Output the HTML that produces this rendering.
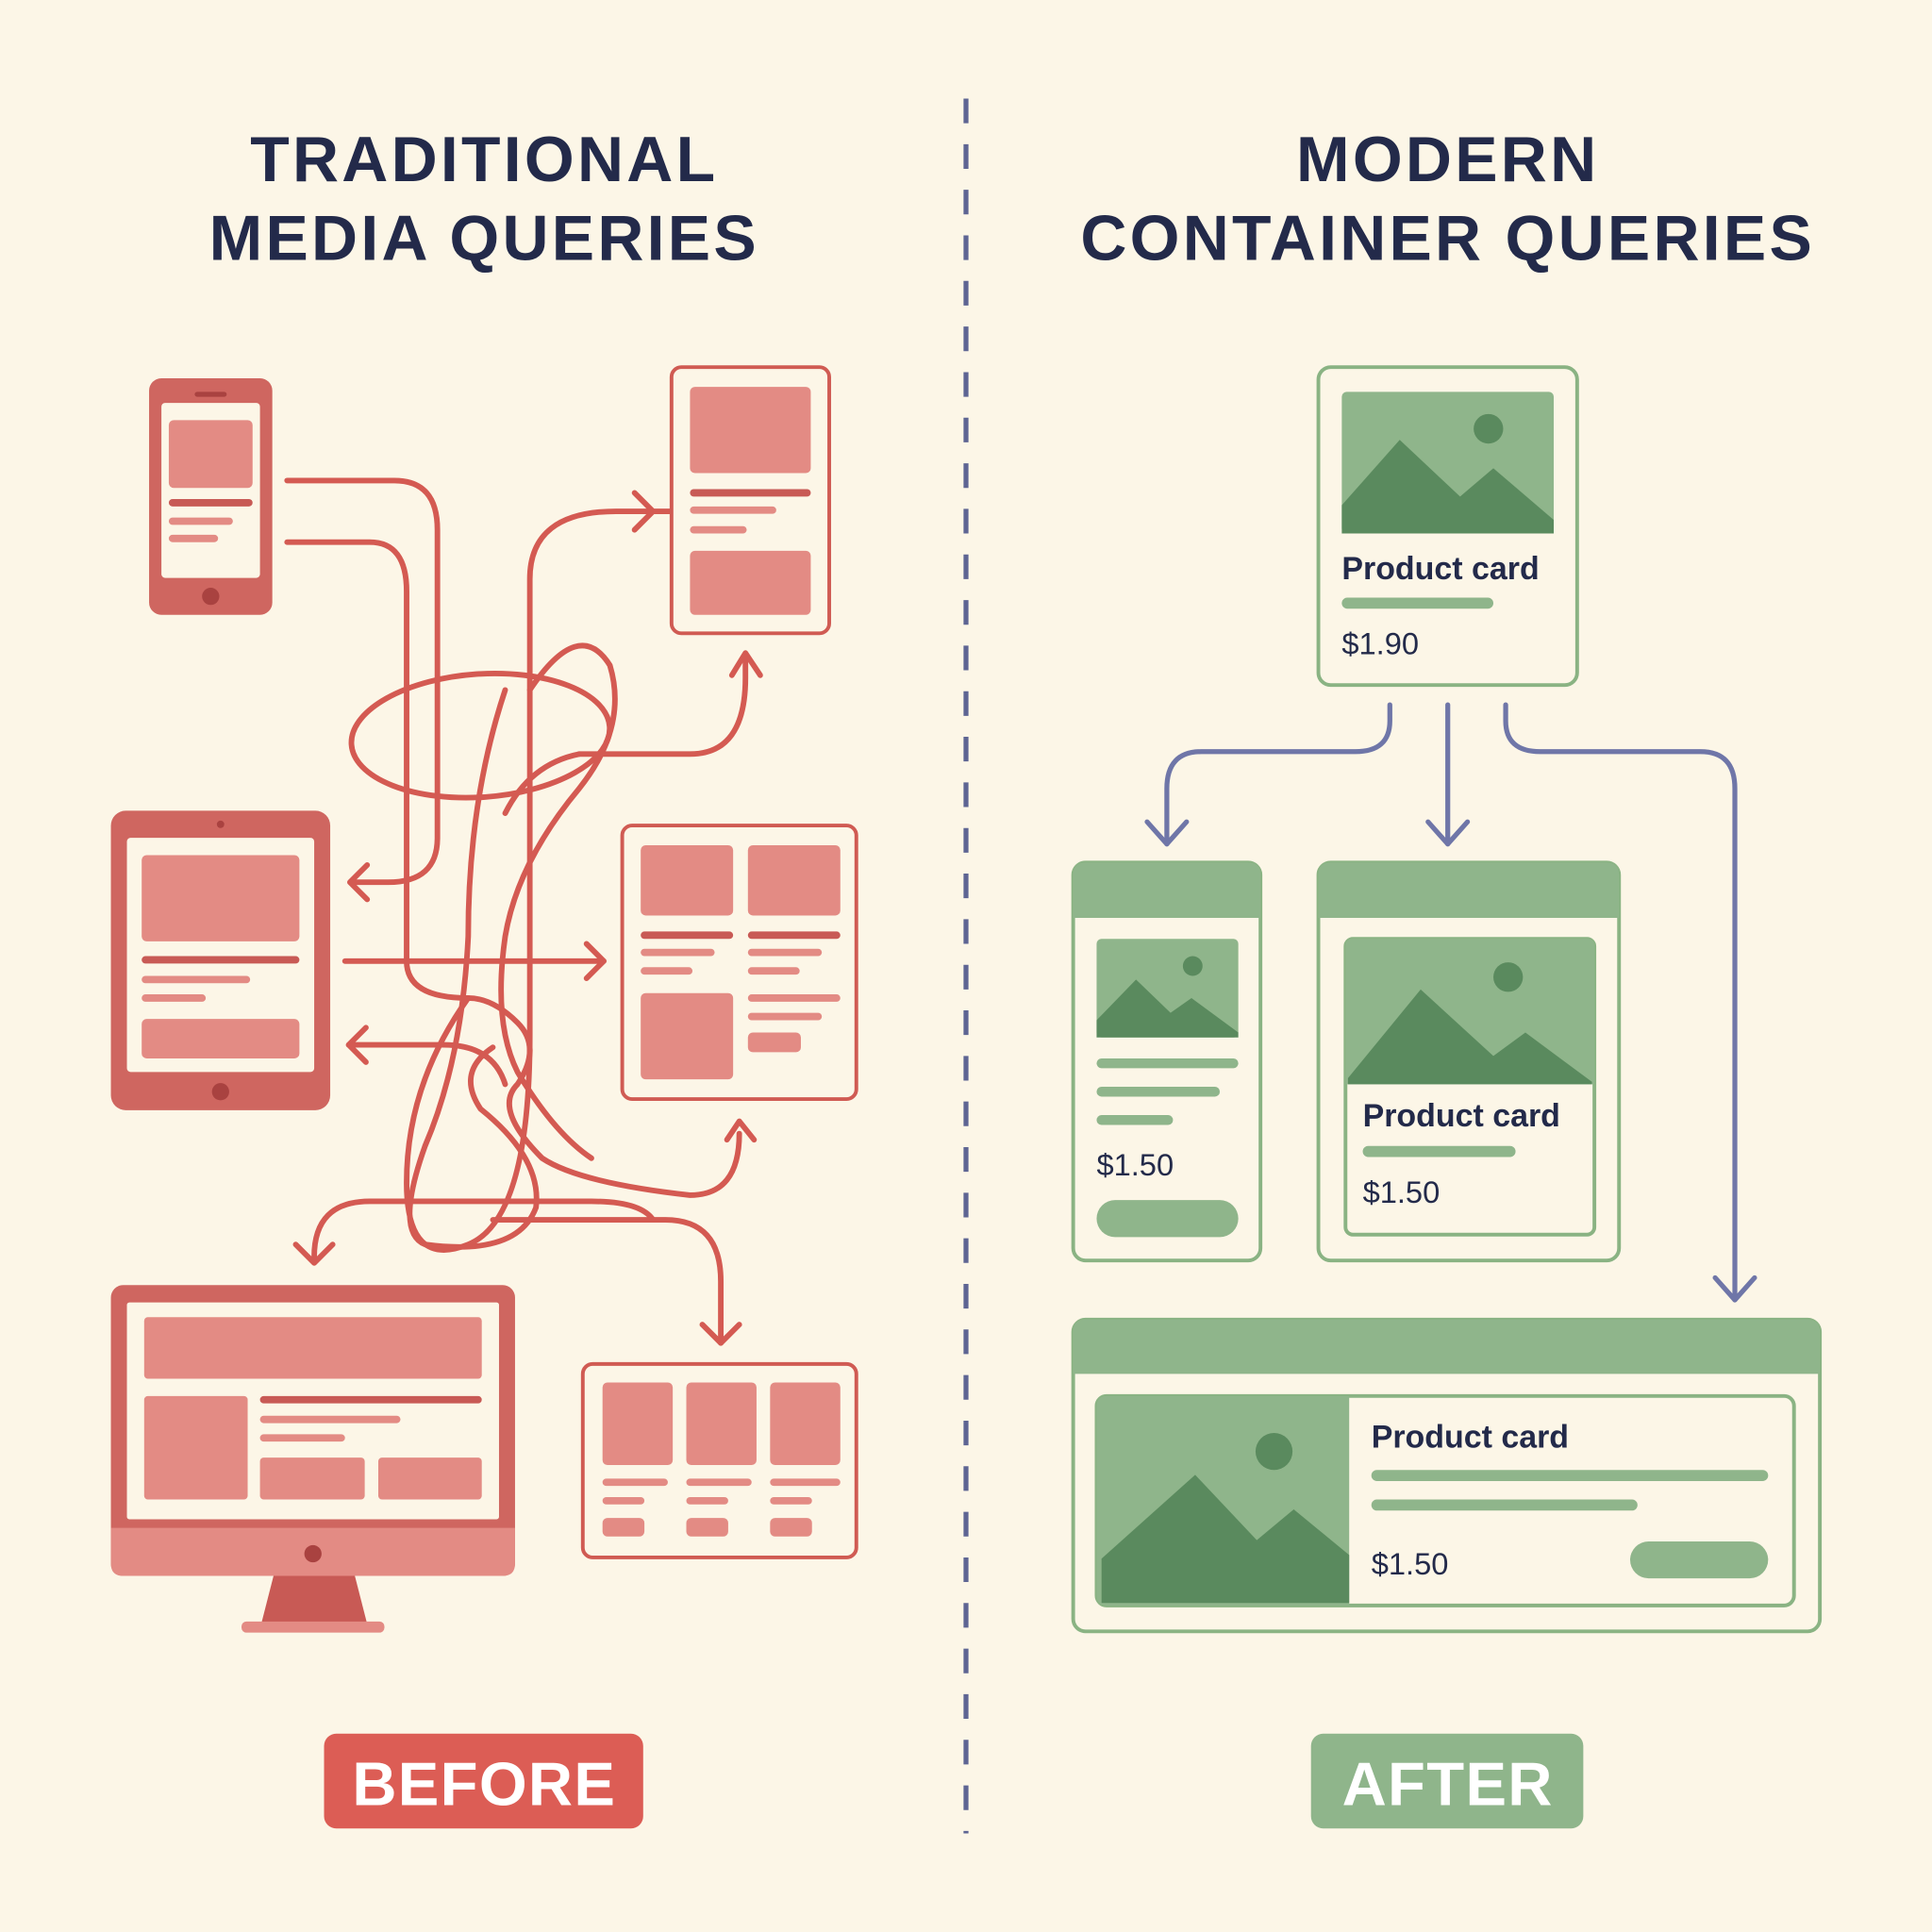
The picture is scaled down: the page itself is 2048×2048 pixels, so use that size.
<!DOCTYPE html>
<html><head><meta charset="utf-8"><style>
html,body{margin:0;padding:0;background:#fcf6e7;}
svg{display:block;}
text{font-family:"Liberation Sans",sans-serif;}
</style></head><body>
<svg width="2048" height="2048" viewBox="0 0 1568 1568" xmlns="http://www.w3.org/2000/svg">
<rect width="1568" height="1568" fill="#fcf6e7"/>
<g fill="#232a4a" font-weight="bold" font-size="52" text-anchor="middle" letter-spacing="2.5">
<text x="393" y="147">TRADITIONAL</text>
<text x="393" y="211">MEDIA QUERIES</text>
<text x="1175" y="147">MODERN</text>
<text x="1175" y="211">CONTAINER QUERIES</text>
</g>
<line x1="784" y1="80" x2="784" y2="1488" stroke="#5e6593" stroke-width="4" stroke-dasharray="20 17"/>

<!-- tangles -->
<g fill="none" stroke="#d45a52" stroke-width="4.5" stroke-linecap="round" stroke-linejoin="round">
<path d="M233 390 H320 Q355 390 355 430 V680 Q355 716 315 716 H285"/>
<path d="M298 702 L284 716 L298 730"/>
<path d="M233 440 H300 Q330 440 330 480 V780 Q330 810 380 810 Q400 810 420 830 Q440 850 420 880 Q400 900 440 940 Q470 960 560 970 Q600 970 600 920"/>
<path d="M590 925 L600 910 L612 925"/>
<path d="M610 415 H500 Q430 415 430 470 V840 Q430 990 380 1010 Q330 1030 330 960 Q330 880 380 810"/>
<path d="M515 400 L530 415 L515 430"/>
<ellipse cx="390" cy="597" rx="105" ry="50" transform="rotate(-4 390 597)"/>
<path d="M430 560 Q470 500 495 540 Q510 590 470 640 Q420 700 410 760 Q400 830 420 870 Q450 920 480 940"/>
<path d="M410 560 Q380 650 380 760 Q375 860 345 930 Q320 1000 345 1010 Q420 1020 435 980 Q440 940 390 900 Q370 870 400 850"/>
<path d="M470 612 H560 Q605 612 605 550 V535"/>
<path d="M594 548 L605 530 L617 548"/>
<path d="M280 780 H490"/>
<path d="M476 766 L490 780 L476 794"/>
<path d="M283 848 H360 Q400 848 410 880"/>
<path d="M297 834 L283 848 L297 862"/>
<path d="M255 1020 Q255 975 300 975 H480 Q520 975 530 990"/>
<path d="M400 990 H540 Q585 990 585 1040 V1090"/>
<path d="M570 1075 L585 1090 L600 1075"/>
<path d="M240 1010 L255 1025 L270 1010"/>
<path d="M470 612 Q430 620 410 660"/>
</g>

<!-- phone -->
<rect x="121" y="307" width="100" height="192" rx="10" fill="#cf6660"/>
<rect x="131" y="327" width="80" height="142" rx="3" fill="#fcf6e7"/>
<rect x="158" y="318" width="26" height="4" rx="2" fill="#a94240"/>
<rect x="137" y="341" width="68" height="55" rx="4" fill="#e38b84"/>
<rect x="137" y="405" width="68" height="6" rx="3" fill="#c85a55"/>
<rect x="137" y="420" width="52" height="6" rx="3" fill="#e38b84"/>
<rect x="137" y="434" width="40" height="6" rx="3" fill="#e38b84"/>
<circle cx="171" cy="484" r="7" fill="#a94240"/>

<!-- phone outline -->
<rect x="545" y="298" width="128" height="216" rx="8" fill="#fcf6e7" stroke="#d05b53" stroke-width="3"/>
<rect x="560" y="314" width="98" height="70" rx="4" fill="#e38b84"/>
<rect x="560" y="397" width="98" height="6" rx="3" fill="#c85a55"/>
<rect x="560" y="411" width="70" height="6" rx="3" fill="#e38b84"/>
<rect x="560" y="427" width="46" height="6" rx="3" fill="#e38b84"/>
<rect x="560" y="447" width="98" height="52" rx="4" fill="#e38b84"/>

<!-- tablet -->
<rect x="90" y="658" width="178" height="243" rx="12" fill="#cf6660"/>
<rect x="103" y="680" width="152" height="190" rx="3" fill="#fcf6e7"/>
<circle cx="179" cy="669" r="3" fill="#a94240"/>
<rect x="115" y="694" width="128" height="70" rx="4" fill="#e38b84"/>
<rect x="115" y="776" width="128" height="6" rx="3" fill="#c85a55"/>
<rect x="115" y="792" width="88" height="6" rx="3" fill="#e38b84"/>
<rect x="115" y="807" width="52" height="6" rx="3" fill="#e38b84"/>
<rect x="115" y="827" width="128" height="32" rx="4" fill="#e38b84"/>
<circle cx="179" cy="886" r="7" fill="#a94240"/>

<!-- two column card -->
<rect x="505" y="670" width="190" height="222" rx="8" fill="#fcf6e7" stroke="#d05b53" stroke-width="3"/>
<rect x="520" y="686" width="75" height="57" rx="4" fill="#e38b84"/>
<rect x="607" y="686" width="75" height="57" rx="4" fill="#e38b84"/>
<rect x="520" y="756" width="75" height="6" rx="3" fill="#c85a55"/>
<rect x="607" y="756" width="75" height="6" rx="3" fill="#c85a55"/>
<rect x="520" y="770" width="60" height="6" rx="3" fill="#e38b84"/>
<rect x="607" y="770" width="60" height="6" rx="3" fill="#e38b84"/>
<rect x="520" y="785" width="42" height="6" rx="3" fill="#e38b84"/>
<rect x="607" y="785" width="42" height="6" rx="3" fill="#e38b84"/>
<rect x="520" y="806" width="75" height="70" rx="4" fill="#e38b84"/>
<rect x="607" y="807" width="75" height="6" rx="3" fill="#e38b84"/>
<rect x="607" y="822" width="60" height="6" rx="3" fill="#e38b84"/>
<rect x="607" y="838" width="43" height="16" rx="4" fill="#e38b84"/>

<!-- monitor -->
<rect x="90" y="1043" width="328" height="236" rx="10" fill="#cf6660"/>
<path d="M90 1240 H418 V1269 Q418 1279 408 1279 H100 Q90 1279 90 1269 Z" fill="#e38b84"/>
<rect x="103" y="1057" width="302" height="176" rx="2" fill="#fcf6e7"/>
<rect x="117" y="1069" width="274" height="50" rx="3" fill="#e38b84"/>
<rect x="117" y="1133" width="84" height="84" rx="3" fill="#e38b84"/>
<rect x="211" y="1133" width="180" height="6" rx="3" fill="#c85a55"/>
<rect x="211" y="1149" width="114" height="6" rx="3" fill="#e38b84"/>
<rect x="211" y="1164" width="69" height="6" rx="3" fill="#e38b84"/>
<rect x="211" y="1183" width="85" height="34" rx="3" fill="#e38b84"/>
<rect x="307" y="1183" width="84" height="34" rx="3" fill="#e38b84"/>
<circle cx="254" cy="1261" r="7" fill="#a94240"/>
<path d="M222 1279 H288 L298 1318 H212 Z" fill="#c85a55"/>
<rect x="196" y="1316" width="116" height="9" rx="4" fill="#e38b84"/>

<!-- wide small card -->
<rect x="473" y="1107" width="222" height="157" rx="8" fill="#fcf6e7" stroke="#d05b53" stroke-width="3"/>
<rect x="489" y="1122" width="57" height="67" rx="4" fill="#e38b84"/>
<rect x="557" y="1122" width="57" height="67" rx="4" fill="#e38b84"/>
<rect x="625" y="1122" width="57" height="67" rx="4" fill="#e38b84"/>
<g fill="#e38b84">
<rect x="489" y="1200" width="53" height="6" rx="3"/><rect x="557" y="1200" width="53" height="6" rx="3"/><rect x="625" y="1200" width="57" height="6" rx="3"/>
<rect x="489" y="1215" width="34" height="6" rx="3"/><rect x="557" y="1215" width="34" height="6" rx="3"/><rect x="625" y="1215" width="34" height="6" rx="3"/>
<rect x="489" y="1232" width="34" height="15" rx="4"/><rect x="557" y="1232" width="34" height="15" rx="4"/><rect x="625" y="1232" width="34" height="15" rx="4"/>
</g>

<!-- badges -->
<rect x="263" y="1407" width="259" height="77" rx="10" fill="#dc5d55"/>
<text x="393" y="1465" font-size="50" font-weight="bold" fill="#fff" text-anchor="middle" letter-spacing="1">BEFORE</text>
<rect x="1064" y="1407" width="221" height="77" rx="10" fill="#8fb58b"/>
<text x="1175" y="1465" font-size="50" font-weight="bold" fill="#fff" text-anchor="middle" letter-spacing="1">AFTER</text>

<!-- blue arrows -->
<g fill="none" stroke="#6f76a8" stroke-width="4" stroke-linecap="round" stroke-linejoin="round">
<path d="M1128 572 V585 Q1128 610 1100 610 H975 Q947 610 947 640 V685"/>
<path d="M931 667 L947 685 L963 667"/>
<path d="M1175 572 V685"/>
<path d="M1159 667 L1175 685 L1191 667"/>
<path d="M1222 572 V585 Q1222 610 1250 610 H1380 Q1408 610 1408 640 V1055"/>
<path d="M1392 1037 L1408 1055 L1424 1037"/>
</g>

<!-- top card -->
<rect x="1070" y="298" width="210" height="258" rx="10" fill="#fcf6e7" stroke="#8ab383" stroke-width="3"/>
<rect x="1089" y="318" width="172" height="115" rx="4" fill="#8fb58b"/>
<path d="M1089 433 V410 L1136 357 L1185 403 L1212 380 L1261 422 V433 Z" fill="#5a8a5e"/>
<circle cx="1208" cy="348" r="12" fill="#5a8a5e"/>
<text x="1089" y="470" font-size="26" font-weight="bold" fill="#232a4a">Product card</text>
<rect x="1089" y="485" width="123" height="9" rx="4.5" fill="#8fb58b"/>
<text x="1089" y="531" font-size="25" fill="#232a4a">$1.90</text>

<!-- narrow card -->
<rect x="871" y="700" width="152" height="323" rx="10" fill="#fcf6e7" stroke="#8ab383" stroke-width="3"/>
<path d="M871 745 V710 Q871 700 881 700 H1013 Q1023 700 1023 710 V745 Z" fill="#8fb58b"/>
<rect x="890" y="762" width="115" height="80" rx="4" fill="#8fb58b"/>
<path d="M890 842 V828 L922 795 L950 822 L967 810 L1005 838 V842 Z" fill="#5a8a5e"/>
<circle cx="968" cy="784" r="8" fill="#5a8a5e"/>
<rect x="890" y="859" width="115" height="8" rx="4" fill="#8fb58b"/>
<rect x="890" y="882" width="100" height="8" rx="4" fill="#8fb58b"/>
<rect x="890" y="905" width="62" height="8" rx="4" fill="#8fb58b"/>
<text x="890" y="954" font-size="25" fill="#232a4a">$1.50</text>
<rect x="890" y="974" width="115" height="30" rx="15" fill="#8fb58b"/>

<!-- medium card -->
<rect x="1070" y="700" width="244" height="323" rx="10" fill="#fcf6e7" stroke="#8ab383" stroke-width="3"/>
<path d="M1070 745 V710 Q1070 700 1080 700 H1304 Q1314 700 1314 710 V745 Z" fill="#8fb58b"/>
<rect x="1092" y="762" width="202" height="240" rx="6" fill="#fcf6e7" stroke="#8ab383" stroke-width="3"/>
<path d="M1092 880 V768 Q1092 762 1098 762 H1288 Q1294 762 1294 768 V880 Z" fill="#8fb58b"/>
<path d="M1094 880 V875 L1153 803 L1212 857 L1238 838 L1292 878 V880 Z" fill="#5a8a5e"/>
<circle cx="1224" cy="793" r="12" fill="#5a8a5e"/>
<text x="1106" y="914" font-size="26" font-weight="bold" fill="#232a4a">Product card</text>
<rect x="1106" y="930" width="124" height="9" rx="4.5" fill="#8fb58b"/>
<text x="1106" y="976" font-size="25" fill="#232a4a">$1.50</text>

<!-- wide card -->
<rect x="871" y="1071" width="606" height="253" rx="10" fill="#fcf6e7" stroke="#8ab383" stroke-width="3"/>
<path d="M871 1115 V1081 Q871 1071 881 1071 H1467 Q1477 1071 1477 1081 V1115 Z" fill="#8fb58b"/>
<rect x="890" y="1133" width="566" height="170" rx="8" fill="#fcf6e7" stroke="#8ab383" stroke-width="3"/>
<path d="M1095 1133 V1303 H898 Q890 1303 890 1295 V1141 Q890 1133 898 1133 Z" fill="#8fb58b"/>
<path d="M894 1301 V1265 L970 1197 L1020 1250 L1050 1225 L1095 1262 V1301 Z" fill="#5a8a5e"/>
<circle cx="1034" cy="1178" r="15" fill="#5a8a5e"/>
<text x="1113" y="1175" font-size="26" font-weight="bold" fill="#232a4a">Product card</text>
<rect x="1113" y="1193" width="322" height="9" rx="4.5" fill="#8fb58b"/>
<rect x="1113" y="1217" width="216" height="9" rx="4.5" fill="#8fb58b"/>
<text x="1113" y="1278" font-size="25" fill="#232a4a">$1.50</text>
<rect x="1323" y="1251" width="112" height="30" rx="15" fill="#8fb58b"/>
</svg>
</body></html>
